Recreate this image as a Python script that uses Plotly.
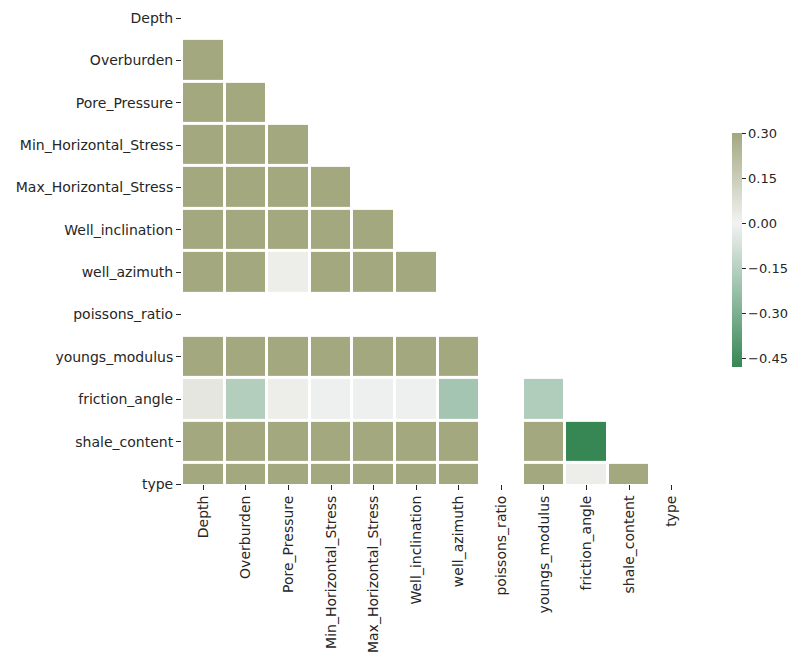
import numpy as np
import plotly.graph_objects as go

# Variables of the correlation matrix (row/column order)
labels = ["Depth", "Overburden", "Pore_Pressure", "Min_Horizontal_Stress",
          "Max_Horizontal_Stress", "Well_inclination", "well_azimuth",
          "poissons_ratio", "youngs_modulus", "friction_angle",
          "shale_content", "type"]

# Lower-triangle correlation rows (columns left of the diagonal).
# poissons_ratio is constant, so its correlations are undefined (None).
r_overburden = [0.99]
r_pore = [0.98, 0.98]
r_minh = [0.97, 0.97, 0.96]
r_maxh = [0.96, 0.96, 0.95, 0.99]
r_incl = [0.62, 0.62, 0.60, 0.61, 0.61]
r_azim = [0.45, 0.46, 0.02, 0.44, 0.44, 0.58]
r_poisson = [None] * 7
r_youngs = [0.55, 0.56, 0.54, 0.55, 0.55, 0.50, 0.40, None]
r_friction = [0.05, -0.16, 0.02, -0.01, -0.01, -0.01, -0.20, None, -0.17]
r_shale = [0.52, 0.53, 0.50, 0.51, 0.51, 0.47, 0.38, None, 0.90, -0.48]
r_type = [0.48, 0.49, 0.47, 0.48, 0.48, 0.44, 0.36, None, 0.85, 0.02, 0.80]

lower_rows = [[], r_overburden, r_pore, r_minh, r_maxh, r_incl, r_azim,
              r_poisson, r_youngs, r_friction, r_shale, r_type]

n = len(labels)
z = []
for row in lower_rows:
    # mask the diagonal and upper triangle
    z.append(list(row) + [None] * (n - len(row)))

vmin, vmax, center = -0.48, 0.30, 0.0
neg_end = "rgb(55,135,85)"
mid = "rgb(242,242,242)"
pos_at_vmax = "rgb(163,168,127)"
mid_pos = (center - vmin) / (vmax - vmin)
colorscale = [[0.0, neg_end], [mid_pos, mid], [1.0, pos_at_vmax]]

cb_ticks = [0.30, 0.15, 0.0, -0.15, -0.30, -0.45]

font = dict(family="DejaVu Sans", size=14, color="#262626")
cb_font = dict(family="DejaVu Sans", size=13, color="#262626")

fig = go.Figure(go.Heatmap(
    z=z,
    x=list(range(n)),
    y=list(range(n)),
    zmin=vmin, zmax=vmax,
    colorscale=colorscale,
    xgap=3, ygap=3,
    hoverongaps=False,
    colorbar=dict(
        thickness=10,
        lenmode="pixels", len=234,
        x=1.076, xanchor="left", xpad=0,
        y=0.502, yanchor="middle", ypad=0,
        outlinewidth=0,
        tickvals=cb_ticks,
        tickformat=".2f",
        ticks="outside", ticklen=4, tickcolor="#262626",
        tickfont=cb_font,
    ),
))

fig.update_layout(
    width=796, height=658,
    margin=dict(l=182, r=103, t=18, b=174, autoexpand=False),
    paper_bgcolor="white", plot_bgcolor="white",
    font=font,
)
fig.update_xaxes(
    range=[-0.5, n - 0.5],
    tickmode="array", tickvals=list(range(n)), ticktext=labels,
    tickangle=-90, ticks="outside", ticklen=5, tickcolor="#262626",
    showgrid=False, zeroline=False, showline=False, tickfont=font,
)
fig.update_yaxes(
    range=[n - 1, 0],
    tickmode="array", tickvals=list(range(n)), ticktext=labels,
    ticks="outside", ticklen=5, tickcolor="#262626",
    showgrid=False, zeroline=False, showline=False, tickfont=font,
)

fig.write_html("out.html")
